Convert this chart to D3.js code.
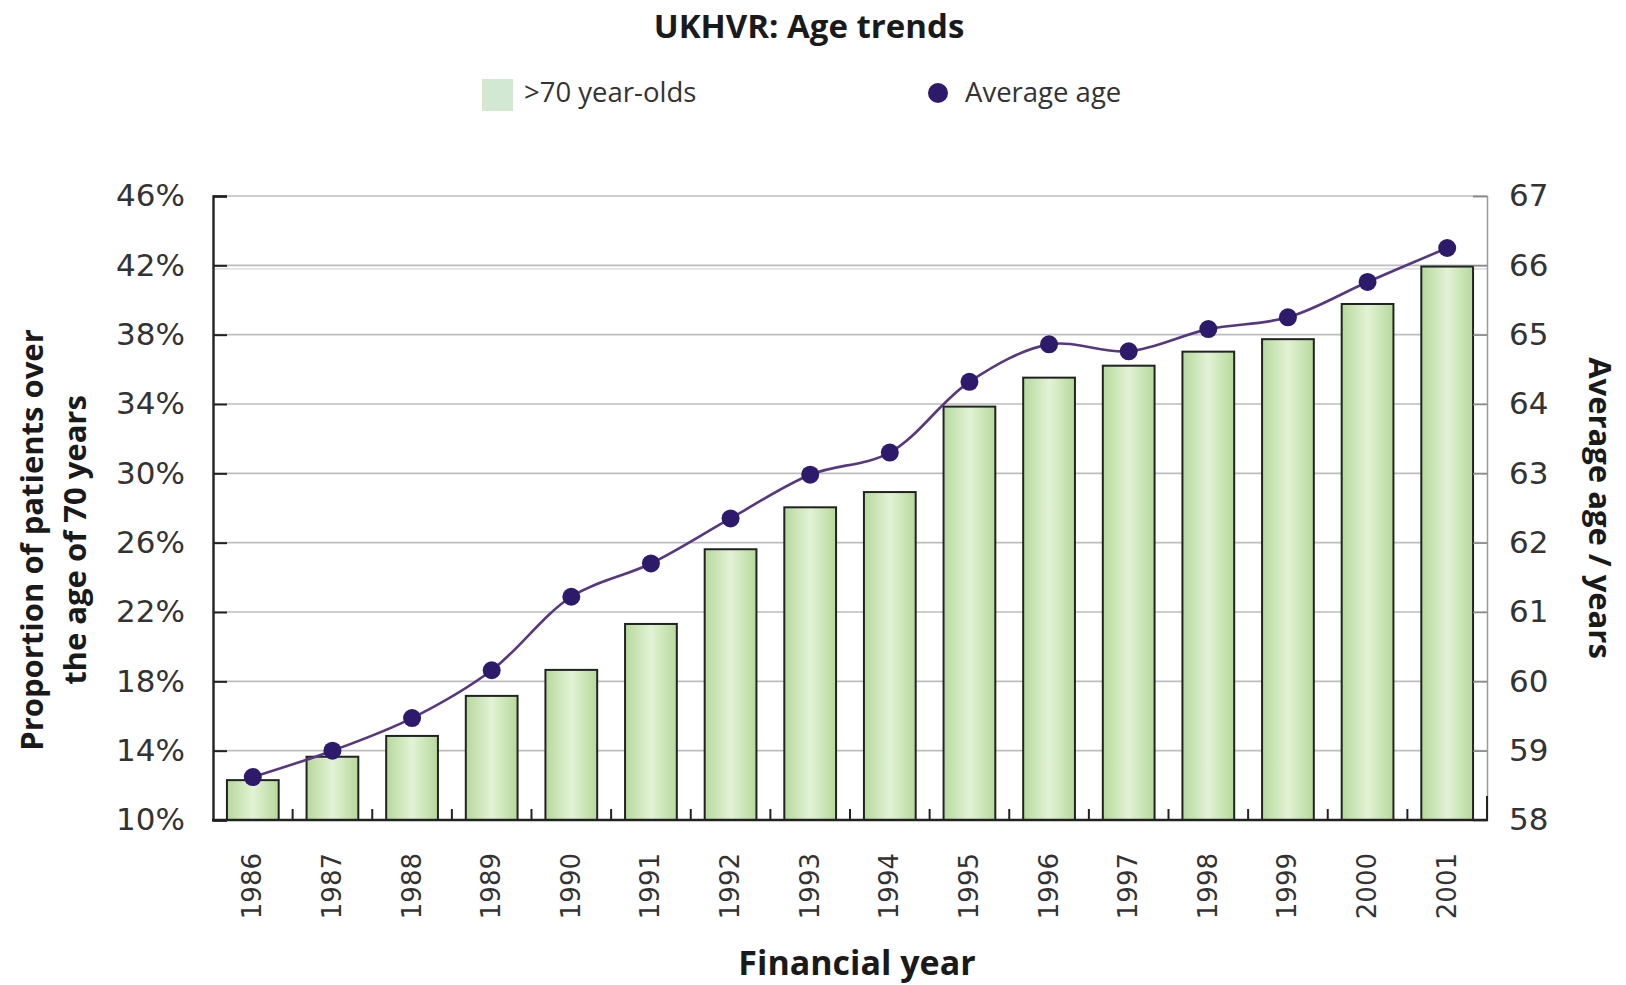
<!DOCTYPE html>
<html>
<head>
<meta charset="utf-8">
<script src="https://cdn.jsdelivr.net/npm/d3@7"></script>
<style>
  html, body { margin: 0; padding: 0; background: #fff; }
  svg { display: block; }
</style>
</head>
<body>
<svg id="chart" width="1626" height="985"></svg>
<script>
const years = ["1986","1987","1988","1989","1990","1991","1992","1993","1994","1995","1996","1997","1998","1999","2000","2001"];
const over70 = [12.3, 13.65, 14.85, 17.16, 18.66, 21.31, 25.62, 28.04, 28.92, 33.85, 35.52, 36.21, 37.02, 37.74, 39.77, 41.93];
const avgAge = [58.62, 59.0, 59.47, 60.16, 61.22, 61.7, 62.35, 62.98, 63.3, 64.32, 64.86, 64.76, 65.08, 65.25, 65.76, 66.25];
const leftTicks = [10, 14, 18, 22, 26, 30, 34, 38, 42, 46];
const rightTicks = [58, 59, 60, 61, 62, 63, 64, 65, 66, 67];

const svg = d3.select("#chart");
const L = 213, R = 1487, T = 196, B = 820;

const x = d3.scaleBand().domain(years).range([L, R]).paddingInner(0.35).paddingOuter(0.175);
const yL = d3.scaleLinear().domain([10, 46]).range([B, T]);
const yR = d3.scaleLinear().domain([58, 67]).range([B, T]);

const defs = svg.append("defs");
const grad = defs.append("linearGradient").attr("id", "barGrad").attr("x1", "0").attr("x2", "1").attr("y1", "0").attr("y2", "0");
grad.append("stop").attr("offset", "0%").attr("stop-color", "#b5d99b");
grad.append("stop").attr("offset", "50%").attr("stop-color", "#e3f2d6");
grad.append("stop").attr("offset", "100%").attr("stop-color", "#b5d99b");

// Title
svg.append("text").attr("x", 809).attr("y", 29).attr("text-anchor", "middle").attr("dominant-baseline", "middle")
  .style("font-family", "'Open Sans', sans-serif").style("font-weight", 700).style("font-size", "33px").style("fill", "#1a1a1a")
  .text("UKHVR: Age trends");

// Legend
svg.append("rect").attr("x", 482).attr("y", 79).attr("width", 31).attr("height", 32).attr("fill", "#d3e8d0");
svg.append("text").attr("x", 524).attr("y", 95).attr("dominant-baseline", "middle")
  .style("font-family", "'Open Sans', sans-serif").style("font-size", "27.5px").style("fill", "#333")
  .text(">70 year-olds");
svg.append("circle").attr("cx", 938).attr("cy", 93).attr("r", 10).attr("fill", "#2d1a6b");
svg.append("text").attr("x", 965).attr("y", 95).attr("dominant-baseline", "middle")
  .style("font-family", "'Open Sans', sans-serif").style("font-size", "27.5px").style("fill", "#333")
  .text("Average age");

// Gridlines
svg.append("g").selectAll("line").data(leftTicks.filter(d => d !== 10)).join("line")
  .attr("x1", L).attr("x2", R).attr("y1", d => yL(d)).attr("y2", d => yL(d))
  .attr("stroke", "#bdbdbd").attr("stroke-width", 1.6);
// faint double line near 42%
svg.append("line").attr("x1", L).attr("x2", R).attr("y1", yL(41.8)).attr("y2", yL(41.8))
  .attr("stroke", "#d6d6d6").attr("stroke-width", 1.2);

// Bars
svg.append("g").selectAll("rect").data(years).join("rect")
  .attr("x", d => x(d)).attr("width", x.bandwidth())
  .attr("y", (d, i) => yL(over70[i])).attr("height", (d, i) => B - yL(over70[i]))
  .attr("fill", "url(#barGrad)").attr("stroke", "#222").attr("stroke-width", 2);

// Left axis
const axL = svg.append("g").attr("transform", `translate(${L},0)`)
  .call(d3.axisLeft(yL).tickValues(leftTicks).tickSize(-14).tickPadding(28).tickFormat(d => d + "%"));
axL.select(".domain").attr("stroke", "#222").attr("stroke-width", 2.4);
axL.selectAll(".tick line").attr("stroke", "#222").attr("stroke-width", 2);
axL.selectAll(".tick text").style("font-family", "'DejaVu Sans', sans-serif").style("font-size", "31px").style("fill", "#333");

// Right axis
const axR = svg.append("g").attr("transform", `translate(${R},0)`)
  .call(d3.axisRight(yR).tickValues(rightTicks).tickSize(-14).tickPadding(22));
axR.select(".domain").attr("stroke", "#9a9a9a").attr("stroke-width", 1.5);
axR.selectAll(".tick line").attr("stroke", "#888").attr("stroke-width", 1.5);
axR.selectAll(".tick text").style("font-family", "'DejaVu Sans', sans-serif").style("font-size", "31px").style("fill", "#333");

// Bottom axis
svg.append("line").attr("x1", L - 1).attr("x2", R + 1).attr("y1", B).attr("y2", B).attr("stroke", "#222").attr("stroke-width", 2.5);
const bounds = years.slice(1).map(d => x(d) - x.step() * x.paddingInner() / 2);
svg.append("g").selectAll("line").data(bounds).join("line")
  .attr("x1", d => d).attr("x2", d => d).attr("y1", B).attr("y2", B - 11)
  .attr("stroke", "#222").attr("stroke-width", 2);
svg.append("line").attr("x1", R).attr("x2", R).attr("y1", B).attr("y2", B - 24).attr("stroke", "#222").attr("stroke-width", 2);

// X tick labels
svg.append("g").selectAll("text").data(years).join("text")
  .attr("transform", d => `translate(${x(d) + x.bandwidth() / 2 + 1},853) rotate(-90)`)
  .attr("text-anchor", "end").attr("dominant-baseline", "middle")
  .style("font-family", "'DejaVu Sans', sans-serif").style("font-size", "26px").style("fill", "#333")
  .text(d => d);

// Line
const pts = years.map((d, i) => [x(d) + x.bandwidth() / 2, yR(avgAge[i])]);
svg.append("path").attr("d", d3.line().curve(d3.curveCatmullRom.alpha(0.5))(pts))
  .attr("fill", "none").attr("stroke", "#57387f").attr("stroke-width", 2.6);
svg.append("g").selectAll("circle").data(pts).join("circle")
  .attr("cx", d => d[0]).attr("cy", d => d[1]).attr("r", 9).attr("fill", "#2d1a6b");

// Axis titles
const titleStyle = sel => sel.style("font-family", "'Open Sans', sans-serif").style("font-weight", 700).style("font-size", "31px").style("fill", "#1a1a1a");
svg.append("text").attr("transform", "translate(35,540) rotate(-90)").attr("text-anchor", "middle").attr("dominant-baseline", "middle")
  .call(titleStyle).text("Proportion of patients over");
svg.append("text").attr("transform", "translate(78,540) rotate(-90)").attr("text-anchor", "middle").attr("dominant-baseline", "middle")
  .call(titleStyle).text("the age of 70 years");
svg.append("text").attr("transform", "translate(1597,508) rotate(90)").attr("text-anchor", "middle").attr("dominant-baseline", "middle")
  .call(titleStyle).text("Average age / years");
svg.append("text").attr("x", 857).attr("y", 966).attr("text-anchor", "middle").attr("dominant-baseline", "middle")
  .call(titleStyle).style("font-size", "34px").text("Financial year");
</script>
</body>
</html>
